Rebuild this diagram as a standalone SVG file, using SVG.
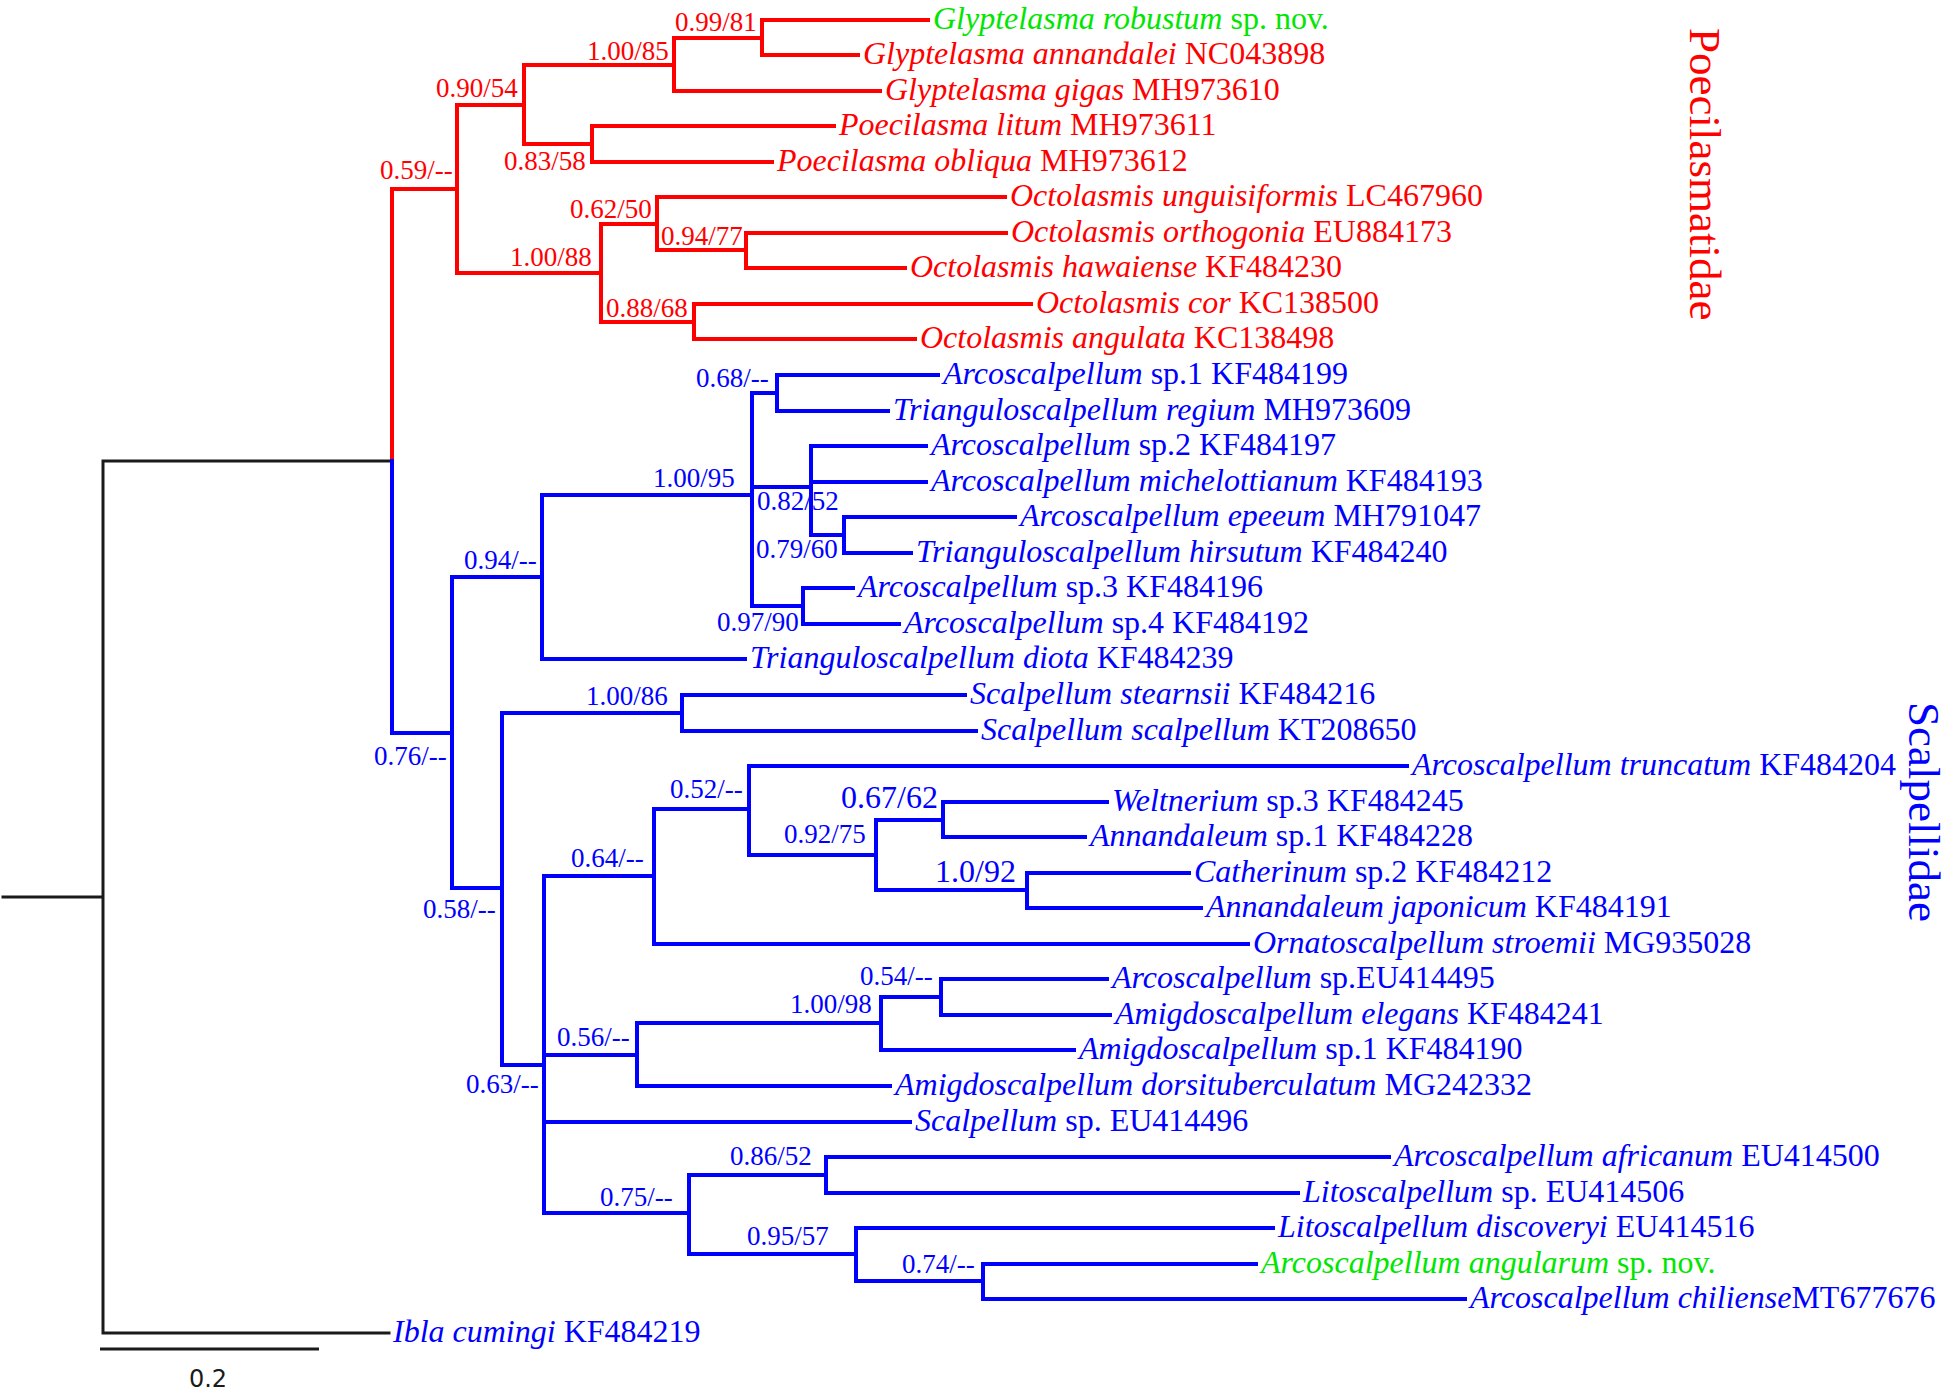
<svg xmlns="http://www.w3.org/2000/svg" width="1950" height="1395" viewBox="0 0 1950 1395">
<style>
  .br { fill: none; stroke-width: 4; stroke-linecap: square; stroke-linejoin: miter; }
  .r { stroke: #ff0000; }
  .b { stroke: #0000ff; }
  .k { stroke: #1a1a1a; stroke-width: 3; }
  text { font-family: "Liberation Serif", "Times New Roman", serif; }
  .leaf { font-size: 32px; }
  .sup { font-size: 27px; }
  .big { font-size: 32px; }
  .it { font-style: italic; }
  .tr { fill: #ff0000; }
  .tb { fill: #0000ff; }
  .tg { fill: #00e600; }
  .fam { font-size: 45px; }
</style>
<rect width="1950" height="1395" fill="#ffffff"/>
<g id="connectors">
  <path class="br k" d="M3,897 H103 M103,461 V1333 M103,461 H392 M103,1333 H389"/>
  <path class="br r" d="M392,189 V461 M392,189 H457 M457,105 V273 M457,105 H524 M524,65 V144 M524,65 H674 M674,38 V91 M674,38 H762 M762,20 V55 M762,20 H928 M762,55 H858 M674,91 H880 M524,144 H592 M592,126 V162 M592,126 H834 M592,162 H772 M457,273 H601 M601,224 V322 M601,224 H657 M657,197 V250 M657,197 H1005 M657,250 H746 M746,233 V268 M746,233 H1006 M746,268 H905 M601,322 H694 M694,304 V339 M694,304 H1031 M694,339 H915"/>
  <path class="br b" d="M392,461 V733 M392,733 H452 M452,577 V888 M452,577 H542 M542,495 V659 M542,495 H752 M752,393 V606 M752,393 H777 M777,375 V411 M777,375 H938 M777,411 H888 M752,487 H811 M811,446 V535 M811,446 H926 M811,482 H926 M811,535 H844 M844,517 V553 M844,517 H1015 M844,553 H911 M752,606 H803 M803,588 V624 M803,588 H853 M803,624 H899 M542,659 H745 M452,888 H502 M502,713 V1065 M502,713 H682 M682,695 V731 M682,695 H965 M682,731 H976 M502,1065 H544 M544,876 V1213 M544,876 H654 M654,809 V944 M654,809 H749 M749,766 V855 M749,766 H1407 M749,855 H876 M876,820 V890 M876,820 H943 M943,802 V837 M943,802 H1107 M943,837 H1085 M876,890 H1027 M1027,873 V908 M1027,873 H1189 M1027,908 H1201 M654,944 H1248 M544,1055 H637 M637,1023 V1086 M637,1023 H881 M881,997 V1050 M881,997 H941 M941,979 V1015 M941,979 H1107 M941,1015 H1110 M881,1050 H1074 M637,1086 H890 M544,1122 H910 M544,1213 H689 M689,1175 V1254 M689,1175 H826 M826,1157 V1193 M826,1157 H1389 M826,1193 H1298 M689,1254 H856 M856,1228 V1281 M856,1228 H1273 M856,1281 H983 M983,1264 V1299 M983,1264 H1256 M983,1299 H1465"/>
</g>
<g id="scale-bar">
  <path class="k" fill="none" stroke-width="3" d="M100,1349 H319"/>
  <text x="208" y="1387" text-anchor="middle" font-family="'DejaVu Sans', Verdana, sans-serif" font-size="24" fill="#1a1a1a" style="font-family:'DejaVu Sans', Verdana, sans-serif">0.2</text>
</g>
<g id="leaves">
  <g id="leaf-01"><text class="leaf tg" x="933" y="29"><tspan class="it">Glyptelasma robustum</tspan> sp. nov.</text></g>
  <g id="leaf-02"><text class="leaf tr" x="863" y="64"><tspan class="it">Glyptelasma annandalei</tspan> NC043898</text></g>
  <g id="leaf-03"><text class="leaf tr" x="885" y="100"><tspan class="it">Glyptelasma gigas</tspan> MH973610</text></g>
  <g id="leaf-04"><text class="leaf tr" x="839" y="135"><tspan class="it">Poecilasma litum</tspan> MH973611</text></g>
  <g id="leaf-05"><text class="leaf tr" x="777" y="171"><tspan class="it">Poecilasma obliqua</tspan> MH973612</text></g>
  <g id="leaf-06"><text class="leaf tr" x="1010" y="206"><tspan class="it">Octolasmis unguisiformis</tspan> LC467960</text></g>
  <g id="leaf-07"><text class="leaf tr" x="1011" y="242"><tspan class="it">Octolasmis orthogonia</tspan> EU884173</text></g>
  <g id="leaf-08"><text class="leaf tr" x="910" y="277"><tspan class="it">Octolasmis hawaiense</tspan> KF484230</text></g>
  <g id="leaf-09"><text class="leaf tr" x="1036" y="313"><tspan class="it">Octolasmis cor</tspan> KC138500</text></g>
  <g id="leaf-10"><text class="leaf tr" x="920" y="348"><tspan class="it">Octolasmis angulata</tspan> KC138498</text></g>
  <g id="leaf-11"><text class="leaf tb" x="943" y="384"><tspan class="it">Arcoscalpellum</tspan> sp.1 KF484199</text></g>
  <g id="leaf-12"><text class="leaf tb" x="893" y="420"><tspan class="it">Trianguloscalpellum regium</tspan> MH973609</text></g>
  <g id="leaf-13"><text class="leaf tb" x="931" y="455"><tspan class="it">Arcoscalpellum</tspan> sp.2 KF484197</text></g>
  <g id="leaf-14"><text class="leaf tb" x="931" y="491"><tspan class="it">Arcoscalpellum michelottianum</tspan> KF484193</text></g>
  <g id="leaf-15"><text class="leaf tb" x="1020" y="526"><tspan class="it">Arcoscalpellum epeeum</tspan> MH791047</text></g>
  <g id="leaf-16"><text class="leaf tb" x="916" y="562"><tspan class="it">Trianguloscalpellum hirsutum</tspan> KF484240</text></g>
  <g id="leaf-17"><text class="leaf tb" x="858" y="597"><tspan class="it">Arcoscalpellum</tspan> sp.3 KF484196</text></g>
  <g id="leaf-18"><text class="leaf tb" x="904" y="633"><tspan class="it">Arcoscalpellum</tspan> sp.4 KF484192</text></g>
  <g id="leaf-19"><text class="leaf tb" x="750" y="668"><tspan class="it">Trianguloscalpellum diota</tspan> KF484239</text></g>
  <g id="leaf-20"><text class="leaf tb" x="970" y="704"><tspan class="it">Scalpellum stearnsii</tspan> KF484216</text></g>
  <g id="leaf-21"><text class="leaf tb" x="981" y="740"><tspan class="it">Scalpellum scalpellum</tspan> KT208650</text></g>
  <g id="leaf-22"><text class="leaf tb" x="1412" y="775"><tspan class="it">Arcoscalpellum truncatum</tspan> KF484204</text></g>
  <g id="leaf-23"><text class="leaf tb" x="1112" y="811"><tspan class="it">Weltnerium</tspan> sp.3 KF484245</text></g>
  <g id="leaf-24"><text class="leaf tb" x="1090" y="846"><tspan class="it">Annandaleum</tspan> sp.1 KF484228</text></g>
  <g id="leaf-25"><text class="leaf tb" x="1194" y="882"><tspan class="it">Catherinum</tspan> sp.2 KF484212</text></g>
  <g id="leaf-26"><text class="leaf tb" x="1206" y="917"><tspan class="it">Annandaleum japonicum</tspan> KF484191</text></g>
  <g id="leaf-27"><text class="leaf tb" x="1253" y="953"><tspan class="it">Ornatoscalpellum stroemii</tspan> MG935028</text></g>
  <g id="leaf-28"><text class="leaf tb" x="1112" y="988"><tspan class="it">Arcoscalpellum</tspan> sp.EU414495</text></g>
  <g id="leaf-29"><text class="leaf tb" x="1115" y="1024"><tspan class="it">Amigdoscalpellum elegans</tspan> KF484241</text></g>
  <g id="leaf-30"><text class="leaf tb" x="1079" y="1059"><tspan class="it">Amigdoscalpellum</tspan> sp.1 KF484190</text></g>
  <g id="leaf-31"><text class="leaf tb" x="895" y="1095"><tspan class="it">Amigdoscalpellum dorsituberculatum</tspan> MG242332</text></g>
  <g id="leaf-32"><text class="leaf tb" x="915" y="1131"><tspan class="it">Scalpellum</tspan> sp. EU414496</text></g>
  <g id="leaf-33"><text class="leaf tb" x="1394" y="1166"><tspan class="it">Arcoscalpellum africanum</tspan> EU414500</text></g>
  <g id="leaf-34"><text class="leaf tb" x="1303" y="1202"><tspan class="it">Litoscalpellum</tspan> sp. EU414506</text></g>
  <g id="leaf-35"><text class="leaf tb" x="1278" y="1237"><tspan class="it">Litoscalpellum discoveryi</tspan> EU414516</text></g>
  <g id="leaf-36"><text class="leaf tg" x="1261" y="1273"><tspan class="it">Arcoscalpellum angularum</tspan> sp. nov.</text></g>
  <g id="leaf-37"><text class="leaf tb" x="1470" y="1308"><tspan class="it">Arcoscalpellum chiliense</tspan>MT677676</text></g>
  <g id="leaf-38"><text class="leaf tb" x="393" y="1342"><tspan class="it">Ibla cumingi</tspan> KF484219</text></g>
</g>
<g id="support-values">
  <g id="n-0-99-81"><text class="sup tr" x="675" y="31">0.99/81</text></g>
  <g id="n-1-00-85"><text class="sup tr" x="587" y="60">1.00/85</text></g>
  <g id="n-0-90-54"><text class="sup tr" x="436" y="97">0.90/54</text></g>
  <g id="n-0-83-58"><text class="sup tr" x="504" y="170">0.83/58</text></g>
  <g id="n-0-59"><text class="sup tr" x="380" y="179">0.59/--</text></g>
  <g id="n-0-62-50"><text class="sup tr" x="570" y="218">0.62/50</text></g>
  <g id="n-0-94-77"><text class="sup tr" x="661" y="245">0.94/77</text></g>
  <g id="n-1-00-88"><text class="sup tr" x="510" y="266">1.00/88</text></g>
  <g id="n-0-88-68"><text class="sup tr" x="606" y="317">0.88/68</text></g>
  <g id="n-0-68"><text class="sup tb" x="696" y="387">0.68/--</text></g>
  <g id="n-1-00-95"><text class="sup tb" x="653" y="487">1.00/95</text></g>
  <g id="n-0-82-52"><text class="sup tb" x="757" y="510">0.82/52</text></g>
  <g id="n-0-79-60"><text class="sup tb" x="756" y="558">0.79/60</text></g>
  <g id="n-0-94"><text class="sup tb" x="464" y="569">0.94/--</text></g>
  <g id="n-0-97-90"><text class="sup tb" x="717" y="631">0.97/90</text></g>
  <g id="n-1-00-86"><text class="sup tb" x="586" y="705">1.00/86</text></g>
  <g id="n-0-76"><text class="sup tb" x="374" y="765">0.76/--</text></g>
  <g id="n-0-52"><text class="sup tb" x="670" y="798">0.52/--</text></g>
  <g id="n-0-67-62"><text class="big tb" x="841" y="808">0.67/62</text></g>
  <g id="n-0-92-75"><text class="sup tb" x="784" y="843">0.92/75</text></g>
  <g id="n-0-64"><text class="sup tb" x="571" y="867">0.64/--</text></g>
  <g id="n-1-0-92"><text class="big tb" x="935" y="882">1.0/92</text></g>
  <g id="n-0-58"><text class="sup tb" x="423" y="918">0.58/--</text></g>
  <g id="n-0-54"><text class="sup tb" x="860" y="985">0.54/--</text></g>
  <g id="n-1-00-98"><text class="sup tb" x="790" y="1013">1.00/98</text></g>
  <g id="n-0-56"><text class="sup tb" x="557" y="1046">0.56/--</text></g>
  <g id="n-0-63"><text class="sup tb" x="466" y="1093">0.63/--</text></g>
  <g id="n-0-86-52"><text class="sup tb" x="730" y="1165">0.86/52</text></g>
  <g id="n-0-75"><text class="sup tb" x="600" y="1206">0.75/--</text></g>
  <g id="n-0-95-57"><text class="sup tb" x="747" y="1245">0.95/57</text></g>
  <g id="n-0-74"><text class="sup tb" x="902" y="1273">0.74/--</text></g>
</g>
<g id="families">
  <g id="fam-poecilasmatidae"><text class="fam tr" transform="translate(1690,28) rotate(90)">Poecilasmatidae</text></g>
  <g id="fam-scalpellidae"><text class="fam tb" transform="translate(1909,702) rotate(90)">Scalpellidae</text></g>
</g>
</svg>
